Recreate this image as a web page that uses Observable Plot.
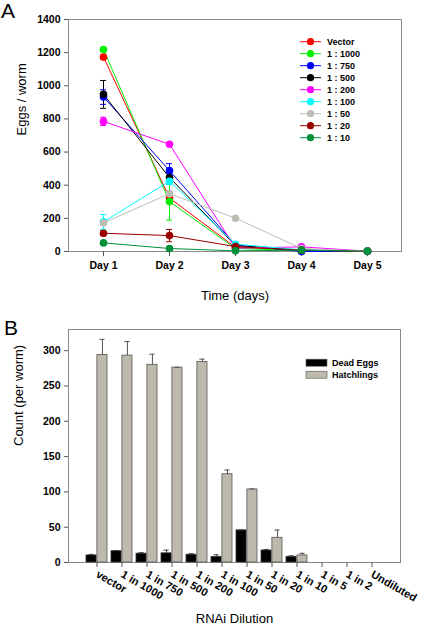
<!DOCTYPE html>
<html><head><meta charset="utf-8">
<script src="https://cdn.jsdelivr.net/npm/d3@7"></script>
<script src="https://cdn.jsdelivr.net/npm/@observablehq/plot@0.6"></script>
<style>
body{margin:0;background:#fff;font-family:"Liberation Sans",Arial,sans-serif;}
#wrap{position:relative;width:421px;height:626px;overflow:hidden;}
.panel{position:absolute;left:0;}
.plabel{position:absolute;font-size:21px;line-height:1;color:#000;}
.ov{position:absolute;left:0;top:0;pointer-events:none;}
</style></head><body><div id="wrap"></div>
<script>
// ---------- Panel A data ----------
const days = ["Day 1","Day 2","Day 3","Day 4","Day 5"];
const seriesA = ["Vector","1 : 1000","1 : 750","1 : 500","1 : 200","1 : 100","1 : 50","1 : 20","1 : 10"];
const colorsA = ["#ff0000","#00ee00","#0000ff","#000000","#ff00ff","#00ffff","#bdbdb5","#990000","#00913a"];
const vVector = [1173, 323, 25, 8, 2];
const v1000   = [1219, 301, 18, 6, 1];
const v750    = [932, 488, 40, 0, 1];
const v500    = [948, 446, 36, 8, 1];
const v200    = [785, 647, 20, 28, 2];
const v100    = [179, 424, 44, 10, 1];
const v50     = [173, 349, 201, 18, 2];
const v20     = [110, 96, 30, 8, 1];
const v10     = [52, 18, 4, 8, 2];
const valuesA = [vVector, v1000, v750, v500, v200, v100, v50, v20, v10];
const eVector = [12, 18, 0, 0, 0];
const e1000   = [10, 112, 0, 0, 0];
const e750    = [44, 42, 0, 0, 0];
const e500    = [84, 40, 0, 0, 0];
const e200    = [25, 8, 0, 0, 0];
const e100    = [44, 20, 0, 0, 0];
const e50     = [15, 15, 0, 0, 0];
const e20     = [15, 37, 0, 0, 0];
const e10     = [8, 5, 0, 0, 0];
const errorsA = [eVector, e1000, e750, e500, e200, e100, e50, e20, e10];
const yTicksA = [0, 200, 400, 600, 800, 1000, 1200, 1400];

// ---------- Panel B data ----------
const dilutions = ["vector","1 in 1000","1 in 750","1 in 500","1 in 200","1 in 100","1 in 50","1 in 20","1 in 10","1 in 5","1 in 2","Undiluted"];
const deadEggs   = [10, 16, 12.5, 13, 11, 8, 45.5, 17, 8, 0, 0, 0];
const deadErr    = [1.5, 1, 1.5, 4.5, 1.5, 3, 0.6, 1.5, 1.5, 0, 0, 0];
const hatchlings = [294, 293, 280, 276, 284, 125, 103.5, 35, 10, 0, 0, 0];
const hatchErr   = [22, 20, 15, 0.5, 4, 6, 0.6, 11, 3, 0, 0, 0];
const seriesB = ["Dead Eggs","Hatchlings"];
const colorsB = ["#000000","#bdb9ad"];
const yTicksB = [0, 50, 100, 150, 200, 250, 300];

const font = "'Liberation Sans', Arial, sans-serif";
const wrap = document.getElementById("wrap");

// ---------- Panel A ----------
const rowsA = [];
seriesA.forEach((s, si) => days.forEach((d, di) => rowsA.push({series: s, day: d, value: valuesA[si][di], err: errorsA[si][di]})));
const errRowsA = rowsA.filter(d => d.err > 0);

const plotA = Plot.plot({
  width: 421, height: 310,
  marginLeft: 68, marginRight: 20, marginTop: 19, marginBottom: 59,
  style: {fontFamily: font, fontSize: "10.5px", background: "transparent", color: "#000"},
  x: {type: "point", domain: days, padding: 0.5, label: null},
  y: {domain: [0, 1400], label: null},
  color: {domain: seriesA, range: colorsA},
  marks: [
    Plot.frame({stroke: "#8a8a8a"}),
    Plot.axisY({ticks: yTicksA, tickFormat: d3.format("d"), tickSize: 4, tickPadding: 4, fontWeight: "bold", label: null, stroke: "#555"}),
    Plot.axisX({tickSize: 5, tickPadding: 5, fontWeight: "bold", label: null, stroke: "#555"}),
    Plot.ruleX(errRowsA, {x: "day", y1: d => d.value - d.err, y2: d => d.value + d.err, stroke: "series", strokeWidth: 1}),
    Plot.ruleY(errRowsA, {x1: "day", x2: "day", y: d => d.value + d.err, stroke: "series", insetLeft: -3, insetRight: -3}),
    Plot.ruleY(errRowsA, {x1: "day", x2: "day", y: d => d.value - d.err, stroke: "series", insetLeft: -3, insetRight: -3}),
    Plot.line(rowsA, {x: "day", y: "value", z: "series", stroke: "series", strokeWidth: 1}),
    Plot.dot(rowsA, {x: "day", y: "value", fill: "series", r: 3.8}),
    Plot.text(["Time (days)"], {frameAnchor: "bottom", dy: 48, fontSize: 13}),
    Plot.text(["Eggs / worm"], {frameAnchor: "left", dx: -47, rotate: -90, fontSize: 13})
  ]
});
const pA = document.createElement("div");
pA.className = "panel"; pA.style.top = "0px";
pA.appendChild(plotA);
wrap.appendChild(pA);

// Legend A (overlay)
const legA = d3.select(pA).append("svg").attr("class", "ov").attr("width", 421).attr("height", 310)
  .style("font-family", font);
seriesA.forEach((s, i) => {
  const y = 41.7 + i * 12;
  const g = legA.append("g");
  g.append("line").attr("x1", 300).attr("x2", 321).attr("y1", y).attr("y2", y).attr("stroke", colorsA[i]).attr("stroke-width", 1);
  g.append("circle").attr("cx", 310.5).attr("cy", y).attr("r", 3.6).attr("fill", colorsA[i]);
  g.append("text").attr("x", 327).attr("y", y).attr("dy", "0.36em").attr("font-size", 9).attr("font-weight", "bold").text(s);
});

// ---------- Panel B ----------
const rowsB = dilutions.map((d, i) => ({dil: d, dead: deadEggs[i], deadErr: deadErr[i], hatch: hatchlings[i], hatchErr: hatchErr[i]}));
const padInner = 0.15, padOuter = 0.55;
const band = d3.scaleBand(dilutions, [68, 400]).paddingInner(padInner).paddingOuter(padOuter);
const bw = band.bandwidth();
const half = bw / 2;
const capHalf = 3;

const deadRows = rowsB.filter(d => d.dead > 0);
const hatchRows = rowsB.filter(d => d.hatch > 0);

const plotB = Plot.plot({
  width: 421, height: 316,
  marginLeft: 68, marginRight: 21, marginTop: 19, marginBottom: 64,
  style: {fontFamily: font, fontSize: "10.5px", background: "transparent", color: "#000"},
  x: {type: "band", domain: dilutions, paddingInner: padInner, paddingOuter: padOuter, label: null},
  y: {domain: [0, 330], label: null},
  marks: [
    Plot.frame({stroke: "#8a8a8a"}),
    Plot.axisY({ticks: yTicksB, tickSize: 4, tickPadding: 4, fontWeight: "bold", label: null, stroke: "#555"}),
    Plot.axisX({tickSize: 5, tickPadding: 6, tickRotate: 30, textAnchor: "start", fontWeight: "bold", fontSize: 11, label: null, stroke: "#555"}),
    Plot.barY(deadRows, {x: "dil", y: "dead", fill: colorsB[0], stroke: "#333", strokeWidth: 0.8, insetLeft: 0, insetRight: half}),
    Plot.barY(hatchRows, {x: "dil", y: "hatch", fill: colorsB[1], stroke: "#555", strokeWidth: 0.8, insetLeft: half, insetRight: 0}),
    Plot.ruleX(deadRows, {x: "dil", y1: "dead", y2: d => d.dead + d.deadErr, dx: -half / 2, stroke: "#444"}),
    Plot.tickY(deadRows, {x: "dil", y: d => d.dead + d.deadErr, stroke: "#444", insetLeft: half / 2 - capHalf, insetRight: bw - half / 2 - capHalf}),
    Plot.ruleX(hatchRows, {x: "dil", y1: "hatch", y2: d => d.hatch + d.hatchErr, dx: half / 2, stroke: "#555"}),
    Plot.tickY(hatchRows, {x: "dil", y: d => d.hatch + d.hatchErr, stroke: "#555", insetLeft: half + half / 2 - capHalf, insetRight: half / 2 - capHalf}),
    Plot.text(["RNAi Dilution"], {frameAnchor: "bottom", dy: 60, fontSize: 13}),
    Plot.text(["Count (per worm)"], {frameAnchor: "left", dx: -50, rotate: -90, fontSize: 13})
  ]
});
const pB = document.createElement("div");
pB.className = "panel"; pB.style.top = "310px";
pB.appendChild(plotB);
wrap.appendChild(pB);

// Legend B (overlay)
const legB = d3.select(pB).append("svg").attr("class", "ov").attr("width", 421).attr("height", 316)
  .style("font-family", font);
seriesB.forEach((s, i) => {
  const y = 52.7 + i * 12;
  legB.append("rect").attr("x", 306).attr("y", y - 3.5).attr("width", 21).attr("height", 7)
    .attr("fill", colorsB[i]).attr("stroke", "#555").attr("stroke-width", 0.6);
  legB.append("text").attr("x", 332).attr("y", y).attr("dy", "0.36em").attr("font-size", 9).attr("font-weight", "bold").text(s);
});

// Panel letters
const la = document.createElement("div"); la.className = "plabel"; la.style.left = "1px"; la.style.top = "0px"; la.textContent = "A"; wrap.appendChild(la);
const lb = document.createElement("div"); lb.className = "plabel"; lb.style.left = "4px"; lb.style.top = "317px"; lb.textContent = "B"; wrap.appendChild(lb);
</script>
</body></html>
